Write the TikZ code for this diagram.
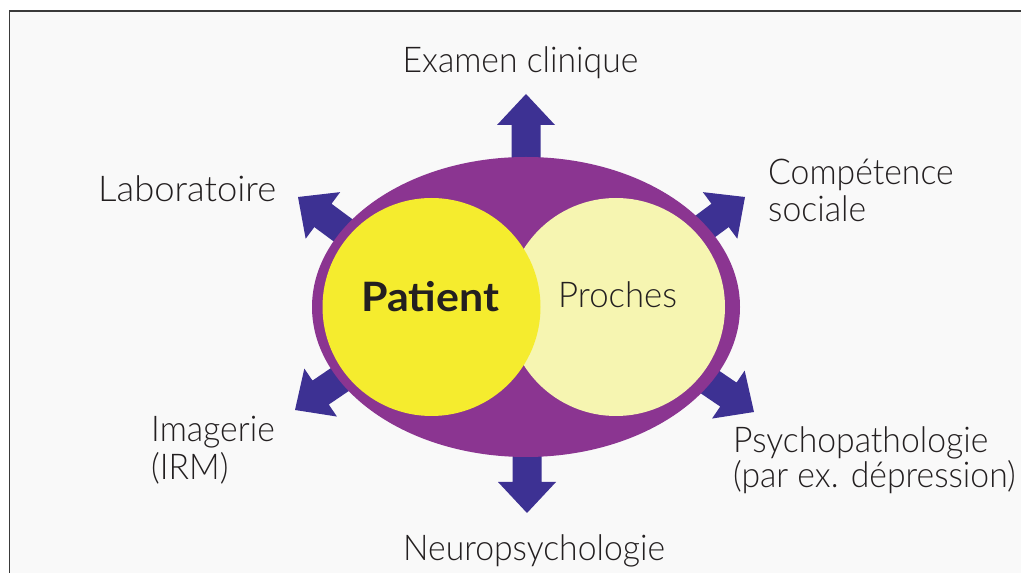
\documentclass[tikz,border=0pt]{standalone}
\usepackage{fontspec}
\setmainfont{Lato Light}[FakeStretch=0.95]
\newfontfamily\patientfont{Lato}[FakeStretch=1.06]
\usetikzlibrary{shapes.geometric}
\definecolor{ringpurple}{HTML}{8B3591}
\definecolor{patientyellow}{HTML}{F5EC2E}
\definecolor{paleyellow}{HTML}{F6F5B1}
\definecolor{arrowblue}{HTML}{3D3193}
\definecolor{panelgray}{HTML}{F9F9F9}
\definecolor{framegray}{HTML}{3A3A3A}
\definecolor{inkgray}{HTML}{231F20}
\begin{document}
\begin{tikzpicture}[x=1pt,y=1pt,
  lbl/.style={inner sep=0pt, text=inkgray, font=\fontsize{35.5}{40}\selectfont},
  pics/blockarrow/.style={code={
    \fill[arrowblue] (0,0) -- (-31,29) -- (-31,14.5) -- (-125,14.5)
      -- (-125,-14.5) -- (-31,-14.5) -- (-31,-29) -- cycle;}}]
\useasboundingbox (0,0) rectangle (1021,573);
\fill[white] (0,0) rectangle (1021,573);
\clip (0,0) rectangle (1021,573);
% panel
\fill[panelgray] (9.5,-5) rectangle (1030,562);
\draw[framegray, line width=1.5pt] (9.5,-5) -- (9.5,562) -- (1030,562);

% block arrows radiating from the ellipse
\pic[rotate=90]    at (526,479) {blockarrow};
\pic[rotate=270]   at (527,60)  {blockarrow};
\pic[rotate=143.5] at (298,376) {blockarrow};
\pic[rotate=36.5]  at (745,376) {blockarrow};
\pic[rotate=214.2] at (295,163) {blockarrow};
\pic[rotate=325.8] at (754,161) {blockarrow};

% ellipse and the two overlapping circles
\node[ellipse, fill=ringpurple, minimum width=428pt, minimum height=300pt, inner sep=0pt] (ring) at (526,266) {};
\node[circle, fill=paleyellow, minimum size=218pt, inner sep=0pt] (proches) at (616,266) {};
\node[circle, fill=patientyellow, minimum size=218pt, inner sep=0pt] (patient) at (431.5,266) {};

\node[lbl, anchor=base west, font=\fontsize{40.5}{44}\patientfont\bfseries] (tpatient) at (361,261) {Patient};
\node[lbl, anchor=base west] (tproches) at (558,265) {\scalebox{1.03}[1]{Proches}};

% outer labels
\node[lbl, anchor=base] (exam) at (520.5,500) {Examen clinique};
\node[lbl, anchor=base west] (labo) at (98,371) {\scalebox{1.08}[1]{Laboratoire}};
\node[lbl, anchor=base west] (comp1) at (768,388) {Compétence};
\node[lbl, anchor=base west] (comp2) at (768,351) {sociale};
\node[lbl, anchor=base west] (imag1) at (151,131) {Imagerie};
\node[lbl, anchor=base west] (imag2) at (151,93) {(IRM)};
\node[lbl, anchor=base west] (psy1) at (733,120) {Psychopathologie};
\node[lbl, anchor=base west] (psy2) at (733,85) {(par ex. dépression)};
\node[lbl, anchor=base west] (neuro) at (403,12) {Neuropsychologie};
\end{tikzpicture}
\end{document}
